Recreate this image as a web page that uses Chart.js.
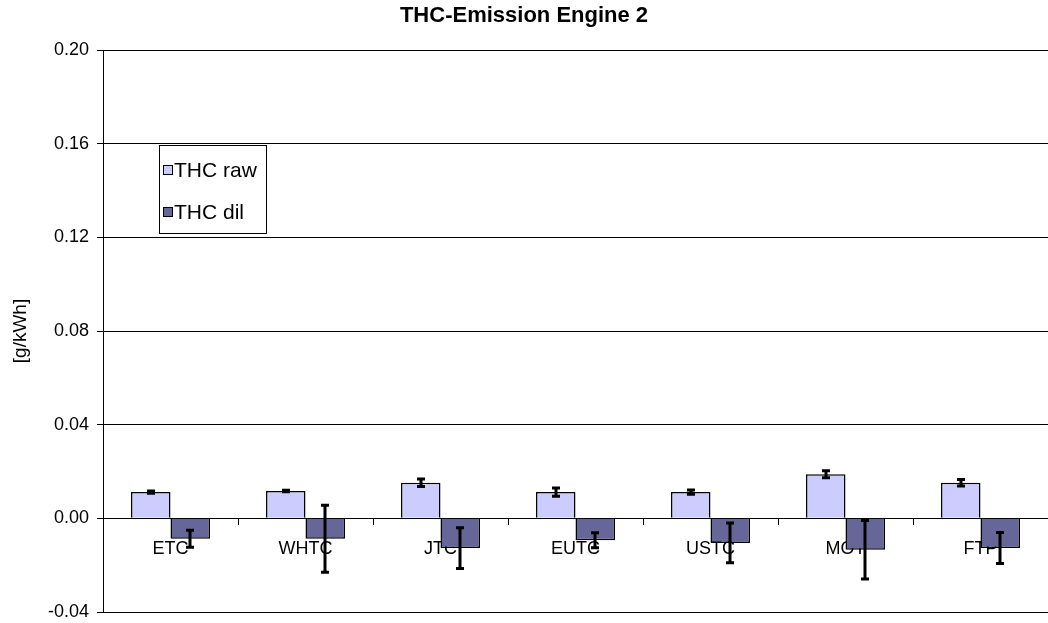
<!DOCTYPE html>
<html>
<head>
<meta charset="utf-8">
<script src="https://cdn.jsdelivr.net/npm/chart.js@4"></script>
<style>
  html, body { margin: 0; padding: 0; background: #fff; }
  #wrap { width: 1048px; height: 623px; }
</style>
</head>
<body>
<div id="wrap"><canvas id="myChart"></canvas></div>
<script>
'use strict'

const cycles = ['ETC', 'WHTC', 'JTC', 'EUTC', 'USTC', 'MOT', 'FTP'];
const thcRaw = [0.0112, 0.0117, 0.0152, 0.0112, 0.0112, 0.0188, 0.0152];
const thcRawErr = [0.0005, 0.0003, 0.0016, 0.0018, 0.0009, 0.0015, 0.0014];
const thcDil = [-0.0087, -0.0087, -0.0127, -0.0094, -0.0105, -0.0134, -0.0127];
const thcDilErr = [0.0036, 0.0143, 0.0087, 0.0032, 0.0085, 0.0125, 0.0066];
const yTicks = [-0.04, 0.00, 0.04, 0.08, 0.12, 0.16, 0.20];

const FONT = '"Liberation Sans", Arial, sans-serif';

// error bars drawn on top of the bars, through the y scale
const errorBars = {
    id: 'errorBars',
    afterDatasetsDraw(chart) {
        const ctx = chart.ctx;
        const y = chart.scales.y;
        ctx.save();
        ctx.strokeStyle = '#000';
        ctx.lineWidth = 3;
        chart.data.datasets.forEach((ds, i) => {
            const meta = chart.getDatasetMeta(i);
            meta.data.forEach((bar, j) => {
                const v = ds.data[j];
                const e = ds.errors[j];
                const x = Math.round(bar.x);
                const top = y.getPixelForValue(v + e);
                const bot = y.getPixelForValue(v - e);
                ctx.beginPath();
                ctx.moveTo(x, top);
                ctx.lineTo(x, bot);
                ctx.moveTo(x - 4, top);
                ctx.lineTo(x + 4, top);
                ctx.moveTo(x - 4, bot);
                ctx.lineTo(x + 4, bot);
                ctx.stroke();
            });
        });
        ctx.restore();
    }
};

// boxed legend sitting inside the plot
const boxLegend = {
    id: 'boxLegend',
    afterDraw(chart, args, opts) {
        const ctx = chart.ctx;
        ctx.save();
        ctx.fillStyle = '#fff';
        ctx.fillRect(opts.x, opts.y, opts.w, opts.h);
        ctx.strokeStyle = '#000';
        ctx.lineWidth = 1;
        ctx.strokeRect(opts.x + 0.5, opts.y + 0.5, opts.w, opts.h);
        ctx.font = '21px ' + FONT;
        ctx.textBaseline = 'middle';
        chart.data.datasets.forEach((ds, i) => {
            const cy = Math.round(opts.y + opts.rowTop + i * opts.rowGap);
            ctx.fillStyle = ds.backgroundColor;
            ctx.fillRect(opts.x + 4, cy - 5, 9, 9);
            ctx.strokeRect(opts.x + 4.5, cy - 4.5, 9, 9);
            ctx.fillStyle = '#000';
            ctx.fillText(ds.label, opts.x + 15, cy + 1);
        });
        ctx.restore();
    }
};

const data = {
    labels: cycles,
    datasets: [{
        label: 'THC raw',
        data: thcRaw,
        errors: thcRawErr,
        backgroundColor: '#CCCCFF',
        borderColor: '#000',
        borderWidth: 1.5,
        categoryPercentage: 0.585,
        barPercentage: 1
    }, {
        label: 'THC dil',
        data: thcDil,
        errors: thcDilErr,
        backgroundColor: '#666699',
        borderColor: '#000',
        borderWidth: 1.5,
        categoryPercentage: 0.585,
        barPercentage: 1
    }]
};

const config = {
    type: 'bar',
    data: data,
    plugins: [errorBars, boxLegend],
    options: {
        responsive: true,
        maintainAspectRatio: false,
        animation: false,
        layout: { padding: 0 },
        plugins: {
            legend: { display: false },
            tooltip: { enabled: false },
            title: {
                display: true,
                text: 'THC-Emission Engine 2',
                color: '#000',
                font: { family: FONT, size: 22, weight: 'bold' },
                padding: { top: 3, bottom: 20.6 }
            },
            boxLegend: { x: 159, y: 145, w: 107, h: 88, rowTop: 25, rowGap: 42 }
        },
        scales: {
            x: {
                position: { y: 0 },
                offset: true,
                grid: { offset: true, drawOnChartArea: false, color: '#000', tickLength: 6 },
                border: { color: '#000' },
                ticks: {
                    color: '#000',
                    font: { family: FONT, size: 18 },
                    padding: 14,
                    maxRotation: 0,
                    autoSkip: false
                }
            },
            y: {
                min: -0.04,
                max: 0.2,
                afterBuildTicks: (scale) => {
                    scale.ticks = yTicks.map(v => ({ value: v }));
                },
                afterFit: (scale) => {
                    scale.width = 103;
                    scale.paddingBottom = 11; // only half a label below the plot
                },
                grid: { color: '#000', tickLength: 6 },
                border: { color: '#000' },
                ticks: {
                    color: '#000',
                    font: { family: FONT, size: 18 },
                    padding: 8,
                    callback: (v) => Number(v).toFixed(2)
                },
                title: {
                    display: true,
                    text: '[g/kWh]',
                    color: '#000',
                    font: { family: FONT, size: 19 },
                    padding: { top: 9, bottom: 0 }
                }
            }
        }
    }
};

const myChart = new Chart(
    document.getElementById('myChart'),
    config
);
</script>
</body>
</html>
